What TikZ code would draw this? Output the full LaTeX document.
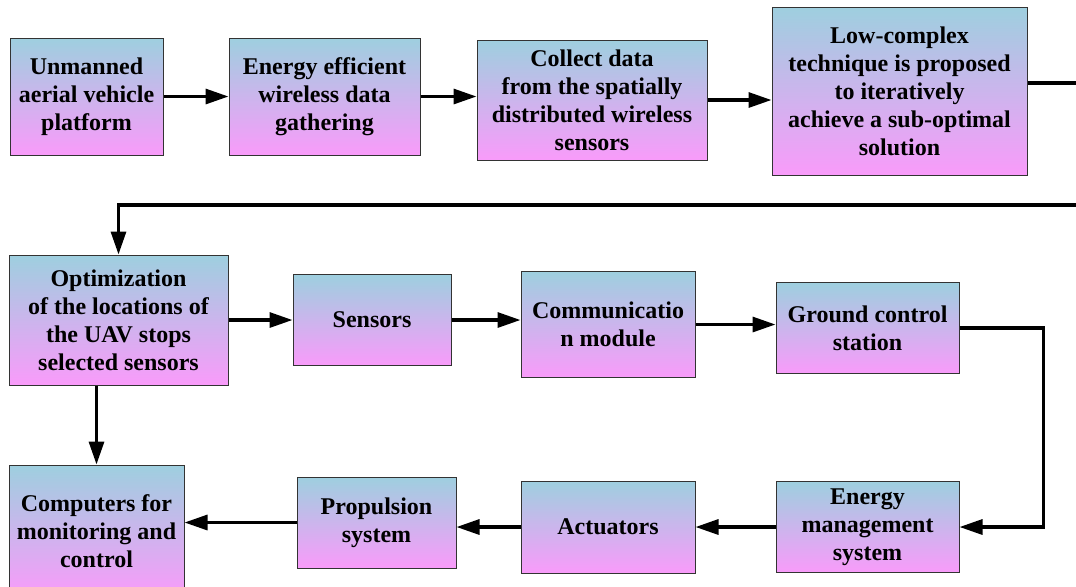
\documentclass[tikz,border=0pt]{standalone}
\usepackage{fontspec}
\setmainfont{LiberationSerif-Regular.ttf}[BoldFont=LiberationSerif-Bold.ttf]
\usetikzlibrary{arrows.meta,positioning}
\definecolor{boxtop}{HTML}{9ECFDF}
\definecolor{boxbottom}{HTML}{F99BFA}

\begin{document}
\begin{tikzpicture}[
  node distance=32pt,
  box/.style={draw=black!80, line width=0.5pt, top color=boxtop, bottom color=boxbottom, align=center, inner sep=2pt, font=\rmfamily\bfseries\fontsize{12pt}{14pt}\selectfont},
  arr/.style={-{Triangle[length=11.5pt, width=7.5pt]}, line width=1.6pt},
  wire/.style={line width=1.6pt},
]
  \useasboundingbox (0,0) rectangle (538pt,-293pt);

  % Row 1
  \node[box, minimum width=76.5pt, minimum height=58.5pt] (uav) at (43.25pt,-48.25pt) {Unmanned\\aerial vehicle\\platform};
  \node[box, minimum width=95.5pt, minimum height=58.5pt, right=32.5pt of uav] (eff) {Energy efficient\\wireless data\\gathering};
  \node[box, minimum width=115pt, minimum height=60pt, right=28pt of eff, yshift=-1.75pt] (col) {Collect data\\from the spatially\\distributed wireless\\sensors};
  \node[box, minimum width=127.5pt, minimum height=84pt, right=32pt of col, yshift=4.5pt] (low) {Low-complex\\technique is proposed\\to iteratively\\achieve a sub-optimal\\solution};
  \draw[arr] (uav) -- (eff);
  \draw[arr] (eff.east) -- (eff.east -| col.west);
  \draw[arr] (col.east) -- (col.east -| low.west);

  % Wrap round to row 2
  \coordinate (edgeA) at (538pt,-41.5pt);
  \coordinate (edgeB) at (538pt,-102.5pt);
  \draw[wire] (low.east |- edgeA) -- (edgeA);

  % Row 2
  \node[box, minimum width=109.5pt, minimum height=65pt] (opt) at (59.25pt,-160pt) {Optimization\\of the locations of\\the UAV stops\\selected sensors};
  \node[box, minimum width=79pt, minimum height=45.5pt, right=32pt of opt] (sen) {Sensors};
  \node[box, minimum width=87pt, minimum height=53pt, right=34.5pt of sen, yshift=-2.25pt] (com) {Communicatio\\n module};
  \node[box, minimum width=91.5pt, minimum height=45.5pt, right=40pt of com, yshift=-1.75pt] (gcs) {Ground control\\station};
  \draw[arr] (edgeB) -| (opt.north);
  \draw[arr] (opt) -- (sen);
  \draw[arr] (sen.east) -- (sen.east -| com.west);
  \draw[arr] (com.east) -- (com.east -| gcs.west);

  % Row 3 (right to left)
  \node[box, minimum width=91.5pt, minimum height=45.5pt, below=53.5pt of gcs] (ems) {Energy\\management\\system};
  \node[box, minimum width=87pt, minimum height=46pt, left=40pt of ems] (act) {Actuators};
  \node[box, minimum width=79.5pt, minimum height=45.5pt, left=32pt of act, yshift=2.25pt] (pro) {Propulsion\\system};
  \node[box, minimum width=87.5pt, minimum height=66pt, left=56pt of pro, yshift=-4.25pt] (cmp) {Computers for\\monitoring and\\control};
  \draw[arr] (gcs.east) -- ++(42pt,0) |- (ems.east);
  \draw[arr] (ems) -- (act);
  \draw[arr] (act.west) -- (act.west -| pro.east);
  \draw[arr] (pro.west) -- (pro.west -| cmp.east);
  \draw[arr] (opt.south -| cmp.north) -- (cmp.north);
\end{tikzpicture}
\end{document}
